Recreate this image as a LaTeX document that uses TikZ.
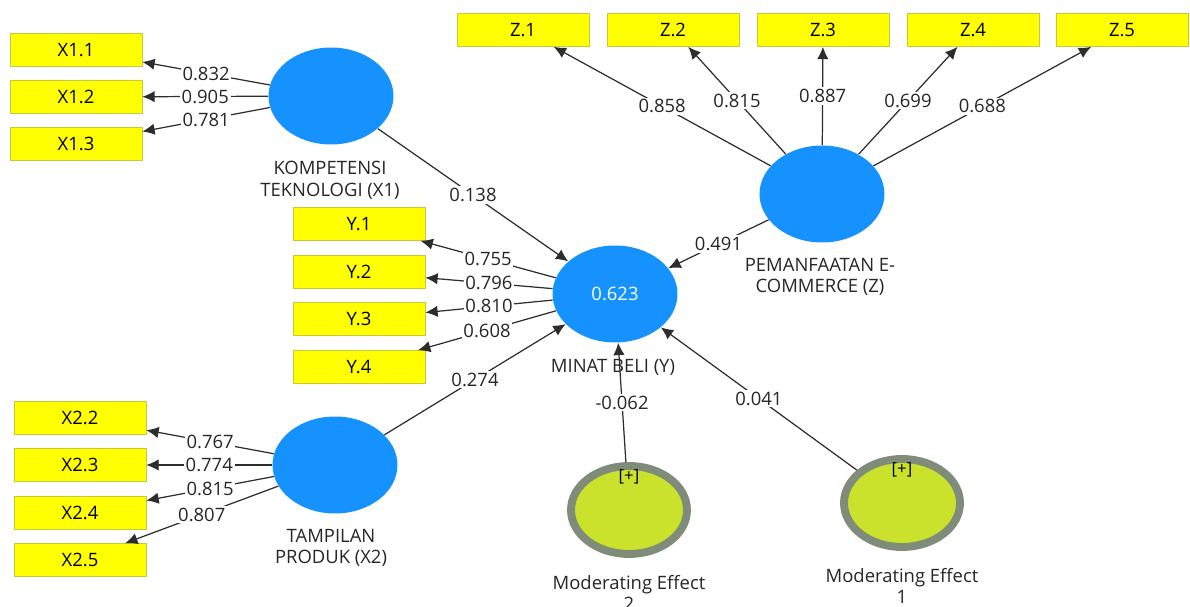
\documentclass[tikz,border=0pt]{standalone}
\usepackage{fontspec}
\setmainfont{Open Sans}
\usetikzlibrary{arrows.meta}
\usetikzlibrary{shapes.geometric}

\definecolor{latblue}{RGB}{22,146,255}
\definecolor{indyel}{RGB}{255,255,0}
\definecolor{indedge}{RGB}{200,200,60}
\definecolor{modfill}{RGB}{202,226,44}
\definecolor{modring}{RGB}{128,140,122}
\definecolor{linegray}{RGB}{45,45,45}

\tikzset{
    ind/.style={draw=indedge, fill=indyel, minimum width=2.64cm, minimum height=0.66cm, inner sep=0pt, font=\fontsize{10.5}{12}\selectfont},
    lat/.style={ellipse, fill=latblue, minimum width=2.5cm, minimum height=1.94cm, inner sep=0pt, text=white, font=\fontsize{10.5}{12}\selectfont},
    modlat/.style={ellipse, draw=modring, line width=4.5pt, fill=modfill, minimum width=2.32cm, minimum height=1.76cm, inner sep=0pt},
    latname/.style={align=center, text=black!85, font=\fontsize{10.5}{12.3}\selectfont},
    coef/.style={fill=white, inner sep=1pt, text=black!85, font=\fontsize{10.5}{12}\selectfont},
    path/.style={draw=linegray, line width=0.7pt, -{Latex[length=7pt,width=6.5pt]}}
}

\begin{document}
\begin{tikzpicture}[x=0.02cm, y=-0.02cm]
    \useasboundingbox (0,0) rectangle (1190,607);

    % latent variables
    \node[lat] (x1) at (331,96) {};
    \node[lat] (y) at (615,294) {0.623};
    \node[lat] (z) at (822,194) {};
    \node[lat] (x2) at (335,465) {};
    \node[modlat] (me2) at (629,510) {};
    \node[modlat] (me1) at (902,503) {};
    \node[font=\fontsize{9.5}{11}\selectfont] (me2p) at (629,477) {[+]};
    \node[font=\fontsize{9.5}{11}\selectfont] (me1p) at (902,470) {[+]};

    \node[latname] (x1name) at (330,180) {KOMPETENSI\\TEKNOLOGI (X1)};
    \node[latname] (yname) at (613,367) {MINAT BELI (Y)};
    \node[latname] (zname) at (820,277) {PEMANFAATAN E-\\COMMERCE (Z)};
    \node[latname] (x2name) at (331,548) {TAMPILAN\\PRODUK (X2)};
    \node[latname] (me2name) at (629,593) {Moderating Effect\\2};
    \node[latname] (me1name) at (902,586) {Moderating Effect\\1};

    % indicators
    \node[ind] (x11) at (76,50) {X1.1};
    \node[ind] (x12) at (76,97) {X1.2};
    \node[ind] (x13) at (76,144) {X1.3};
    \node[ind] (y1) at (359,224) {Y.1};
    \node[ind] (y2) at (359,272) {Y.2};
    \node[ind] (y3) at (359,319) {Y.3};
    \node[ind] (y4) at (359,367) {Y.4};
    \node[ind] (x22) at (80,418) {X2.2};
    \node[ind] (x23) at (80,465) {X2.3};
    \node[ind] (x24) at (80,513) {X2.4};
    \node[ind] (x25) at (80,560) {X2.5};
    \node[ind] (z1) at (523,30) {Z.1};
    \node[ind] (z2) at (673,30) {Z.2};
    \node[ind] (z3) at (823,30) {Z.3};
    \node[ind] (z4) at (973,30) {Z.4};
    \node[ind] (z5) at (1122,30) {Z.5};

    % outer loadings
    \draw[path] (x1) -- (x11) node[coef,midway] (l1) {0.832};
    \draw[path] (x1) -- (x12) node[coef,midway] (l2) {0.905};
    \draw[path] (x1) -- (x13) node[coef,midway] (l3) {0.781};
    \draw[path] (y) -- (y1) node[coef,midway] (l4) {0.755};
    \draw[path] (y) -- (y2) node[coef,midway] (l5) {0.796};
    \draw[path] (y) -- (y3) node[coef,midway] (l6) {0.810};
    \draw[path] (y) -- (y4) node[coef,midway] (l7) {0.608};
    \draw[path] (x2) -- (x22) node[coef,midway] (l8) {0.767};
    \draw[path] (x2) -- (x23) node[coef,midway] (l9) {0.774};
    \draw[path] (x2) -- (x24) node[coef,midway] (l10) {0.815};
    \draw[path] (x2) -- (x25) node[coef,midway] (l11) {0.807};
    \draw[path] (z) -- (z1) node[coef,midway] (l12) {0.858};
    \draw[path] (z) -- (z2) node[coef,midway] (l13) {0.815};
    \draw[path] (z) -- (z3) node[coef,midway] (l14) {0.887};
    \draw[path] (z) -- (z4) node[coef,midway] (l15) {0.699};
    \draw[path] (z) -- (z5) node[coef,midway] (l16) {0.688};

    % inner model
    \draw[path] (x1) -- (y) node[coef,midway] (p1) {0.138};
    \draw[path] (z) -- (y) node[coef,midway] (p2) {0.491};
    \draw[path] (x2) -- (y) node[coef,midway] (p3) {0.274};
    \draw[path] (me2) -- (y) node[coef,midway] (p4) {-0.062};
    \draw[path] (me1) -- (y) node[coef,midway] (p5) {0.041};
\end{tikzpicture}
\end{document}
